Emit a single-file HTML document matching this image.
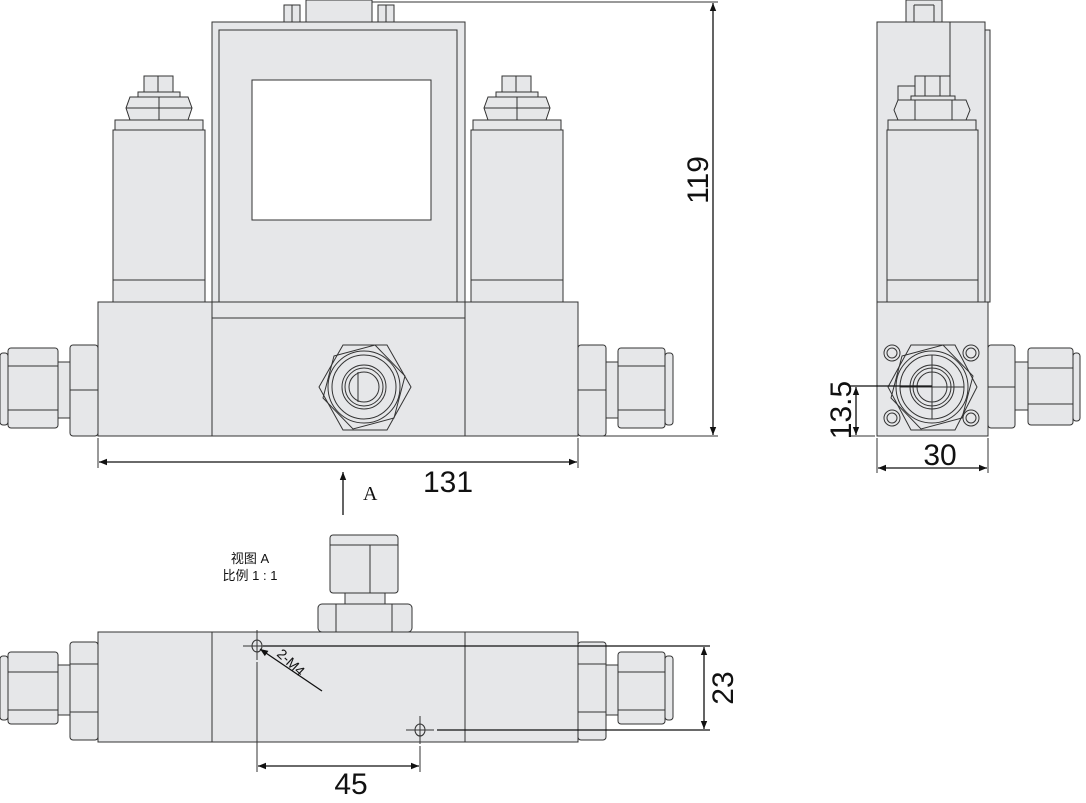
<!DOCTYPE html>
<html><head><meta charset="utf-8"><style>
html,body{margin:0;padding:0;background:#fff;}
svg{display:block;}
.f{fill:#e6e7e9;stroke:#333;stroke-width:1;}
.l{stroke:#333;stroke-width:1;fill:none;}
.d{stroke:#111;stroke-width:1.3;fill:none;}
.t{font-family:"Liberation Sans",sans-serif;fill:#111;}
</style></head><body>
<svg width="1086" height="803" viewBox="0 0 1086 803" xmlns="http://www.w3.org/2000/svg">
<defs>
<marker id="ar" viewBox="0 0 10 10" refX="10" refY="5" markerWidth="12" markerHeight="8" orient="auto-start-reverse" markerUnits="userSpaceOnUse"><path d="M0,1 L10,5 L0,9 z" fill="#111"/></marker>
</defs>

<!-- ============ FRONT VIEW ============ -->
<rect class="f" x="284" y="5" width="16" height="18"/><line class="l" x1="292" y1="5" x2="292" y2="23"/>
<rect class="f" x="378" y="5" width="16" height="18"/><line class="l" x1="386" y1="5" x2="386" y2="23"/>
<rect class="f" x="306" y="0" width="66" height="23"/>
<rect class="f" x="212" y="22" width="253" height="296"/>
<rect class="f" x="219" y="30" width="238" height="277"/>
<rect x="252" y="80" width="179" height="140" fill="#fff" stroke="#333"/>
<rect class="f" x="113" y="130" width="92" height="172"/><line class="l" x1="113" y1="280" x2="205" y2="280"/>
<rect class="f" x="115" y="120" width="88" height="10"/>
<path class="f" d="M130,97 L188,97 L192,108 L188,120 L130,120 L126,108 Z"/><line class="l" x1="159" y1="97" x2="159" y2="120"/><line class="l" x1="126" y1="108" x2="192" y2="108"/>
<rect class="f" x="138" y="92" width="42" height="5"/>
<rect class="f" x="144" y="76" width="29" height="16"/><line class="l" x1="158" y1="76" x2="158" y2="92"/>
<rect class="f" x="471" y="130" width="92" height="172"/><line class="l" x1="471" y1="280" x2="563" y2="280"/>
<rect class="f" x="473" y="120" width="88" height="10"/>
<path class="f" d="M488,97 L546,97 L550,108 L546,120 L488,120 L484,108 Z"/><line class="l" x1="517" y1="97" x2="517" y2="120"/><line class="l" x1="484" y1="108" x2="550" y2="108"/>
<rect class="f" x="496" y="92" width="42" height="5"/>
<rect class="f" x="502" y="76" width="29" height="16"/><line class="l" x1="516" y1="76" x2="516" y2="92"/>
<rect class="f" x="98" y="302" width="480" height="134"/>
<line class="l" x1="212" y1="302" x2="212" y2="436"/><line class="l" x1="465" y1="302" x2="465" y2="436"/>
<line class="l" x1="212" y1="318" x2="465" y2="318"/>
<rect class="f" x="0" y="353" width="8" height="72" rx="3"/>
<rect class="f" x="8" y="348" width="50" height="80" rx="3"/><line class="l" x1="8" y1="366" x2="58" y2="366"/><line class="l" x1="8" y1="410" x2="58" y2="410"/>
<rect class="f" x="58" y="362" width="12" height="56"/>
<rect class="f" x="70" y="345" width="28" height="91" rx="3"/><line class="l" x1="70" y1="390" x2="98" y2="390"/>
<rect class="f" x="578" y="345" width="28" height="91" rx="3"/><line class="l" x1="578" y1="390" x2="606" y2="390"/>
<rect class="f" x="606" y="362" width="12" height="56"/>
<rect class="f" x="618" y="348" width="47" height="80" rx="3"/><line class="l" x1="618" y1="366" x2="665" y2="366"/><line class="l" x1="618" y1="410" x2="665" y2="410"/>
<rect class="f" x="665" y="353" width="8" height="72" rx="3"/>
<g transform="translate(364,387)">
<path class="l" d="M-21,-42 L23,-42 L47,0 L23,43 L-21,43 L-45,0 Z"/>
<path class="l" d="M-30,-31 L11,-42 L41,-11 L30,31 L-11,42 L-41,11 Z"/>
<circle class="l" r="36"/><circle class="l" r="32"/><circle class="l" r="22" stroke-width="1.6"/><circle class="l" r="19"/><circle class="l" r="15"/>
<line class="l" x1="-6" y1="-15" x2="-6" y2="15"/>
</g>
<line class="l" x1="98" y1="438" x2="98" y2="468"/><line class="l" x1="578" y1="438" x2="578" y2="468"/>
<line class="d" x1="99" y1="462" x2="577" y2="462" marker-start="url(#ar)" marker-end="url(#ar)"/>
<text class="t" x="448" y="492" font-size="30" text-anchor="middle">131</text>
<line class="l" x1="372" y1="2" x2="718" y2="2"/><line class="l" x1="580" y1="436" x2="718" y2="436"/>
<line class="d" x1="713" y1="3" x2="713" y2="435" marker-start="url(#ar)" marker-end="url(#ar)"/>
<text class="t" font-size="30" text-anchor="middle" transform="translate(708,180) rotate(-90)">119</text>
<line class="d" x1="343" y1="515" x2="343" y2="472" marker-end="url(#ar)"/>
<text x="363" y="500" font-size="20" style="font-family:'Liberation Serif',serif" fill="#111">A</text>

<!-- ============ SIDE VIEW ============ -->
<rect class="f" x="906" y="0" width="36" height="23"/><line class="l" x1="914" y1="5" x2="934" y2="5"/><line class="l" x1="914" y1="5" x2="914" y2="23"/><line class="l" x1="934" y1="5" x2="934" y2="23"/>
<rect class="f" x="985" y="30" width="5" height="272"/>
<rect class="f" x="877" y="22" width="108" height="280"/>
<line class="l" x1="950" y1="22" x2="950" y2="85"/><line class="l" x1="950" y1="85" x2="945" y2="85"/>
<rect class="f" x="887" y="130" width="91" height="172"/><line class="l" x1="887" y1="280" x2="978" y2="280"/>
<rect class="f" x="888" y="120" width="88" height="10"/>
<path class="f" d="M898,100 L966,100 L970,110 L966,120 L898,120 L894,110 Z"/><line class="l" x1="915" y1="100" x2="915" y2="120"/><line class="l" x1="952" y1="100" x2="952" y2="120"/>
<rect class="f" x="898" y="86" width="18" height="14"/>
<rect class="f" x="911" y="96" width="44" height="4"/>
<rect class="f" x="915" y="76" width="35" height="20"/><line class="l" x1="925" y1="76" x2="925" y2="96"/><line class="l" x1="940" y1="76" x2="940" y2="96"/>
<rect class="f" x="877" y="302" width="111" height="134"/>
<g class="l">
<circle cx="892" cy="353" r="8"/><circle cx="892" cy="353" r="5"/>
<circle cx="971" cy="353" r="8"/><circle cx="971" cy="353" r="5"/>
<circle cx="892" cy="418" r="8"/><circle cx="892" cy="418" r="5"/>
<circle cx="971" cy="418" r="8"/><circle cx="971" cy="418" r="5"/>
</g>
<g transform="translate(932,387)">
<path class="l" d="M-21,-42 L23,-42 L45,0 L23,43 L-21,43 L-44,0 Z"/>
<path class="l" d="M-30,-31 L11,-42 L41,-11 L30,31 L-11,42 L-41,11 Z"/>
<circle class="l" r="36"/><circle class="l" r="32"/><circle class="l" r="22" stroke-width="1.6"/><circle class="l" r="19"/><circle class="l" r="15"/>
<line class="l" x1="0" y1="-32" x2="0" y2="32"/><line class="l" x1="-32" y1="0" x2="32" y2="0"/>
</g>
<rect class="f" x="988" y="345" width="27" height="83" rx="3"/><line class="l" x1="988" y1="387" x2="1015" y2="387"/>
<rect class="f" x="1015" y="362" width="13" height="48"/>
<rect class="f" x="1028" y="348" width="45" height="77" rx="3"/><line class="l" x1="1028" y1="368" x2="1073" y2="368"/><line class="l" x1="1028" y1="404" x2="1073" y2="404"/>
<rect class="f" x="1073" y="353" width="7" height="68" rx="3"/>
<line class="d" x1="850" y1="386" x2="932" y2="386"/><line class="l" x1="850" y1="436" x2="875" y2="436"/>
<line class="d" x1="856" y1="387" x2="856" y2="435" marker-start="url(#ar)" marker-end="url(#ar)"/>
<text class="t" font-size="30" text-anchor="middle" transform="translate(851,410) rotate(-90)">13.5</text>
<line class="l" x1="877" y1="438" x2="877" y2="473"/><line class="l" x1="988" y1="438" x2="988" y2="473"/>
<line class="d" x1="878" y1="468" x2="987" y2="468" marker-start="url(#ar)" marker-end="url(#ar)"/>
<text class="t" x="940" y="465" font-size="30" text-anchor="middle">30</text>

<!-- ============ VIEW A ============ -->
<text class="t" x="250" y="563" font-size="13" text-anchor="middle" style="font-family:'Liberation Sans','Noto Sans CJK SC',sans-serif">视图 A</text>
<text class="t" x="250" y="580" font-size="13" text-anchor="middle" style="font-family:'Liberation Sans','Noto Sans CJK SC',sans-serif">比例 1 : 1</text>
<rect class="f" x="330" y="535" width="68" height="58" rx="3"/><line class="l" x1="330" y1="545" x2="398" y2="545"/><line class="l" x1="370" y1="545" x2="370" y2="593"/>
<rect class="f" x="345" y="593" width="40" height="11"/>
<rect class="f" x="318" y="604" width="94" height="28" rx="4"/><line class="l" x1="336" y1="604" x2="336" y2="632"/><line class="l" x1="392" y1="604" x2="392" y2="632"/>
<rect class="f" x="98" y="632" width="480" height="110"/>
<line class="l" x1="212" y1="632" x2="212" y2="742"/><line class="l" x1="465" y1="632" x2="465" y2="742"/>
<rect class="f" x="0" y="656" width="8" height="64" rx="3"/>
<rect class="f" x="8" y="652" width="50" height="72" rx="3"/><line class="l" x1="8" y1="672" x2="58" y2="672"/><line class="l" x1="8" y1="710" x2="58" y2="710"/>
<rect class="f" x="58" y="665" width="12" height="50"/>
<rect class="f" x="70" y="642" width="28" height="98" rx="3"/><line class="l" x1="70" y1="664" x2="98" y2="664"/><line class="l" x1="70" y1="712" x2="98" y2="712"/>
<rect class="f" x="578" y="642" width="28" height="98" rx="3"/><line class="l" x1="578" y1="664" x2="606" y2="664"/><line class="l" x1="578" y1="712" x2="606" y2="712"/>
<rect class="f" x="606" y="665" width="12" height="50"/>
<rect class="f" x="618" y="652" width="47" height="72" rx="3"/><line class="l" x1="618" y1="672" x2="665" y2="672"/><line class="l" x1="618" y1="710" x2="665" y2="710"/>
<rect class="f" x="665" y="656" width="8" height="64" rx="3"/>
<ellipse class="l" cx="257" cy="646" rx="5" ry="6"/>
<line class="l" x1="243" y1="646" x2="271" y2="646"/><line class="l" x1="257" y1="630" x2="257" y2="660"/>
<ellipse class="l" cx="420" cy="730" rx="5" ry="6"/>
<line class="l" x1="406" y1="730" x2="434" y2="730"/><line class="l" x1="420" y1="716" x2="420" y2="744"/>
<line class="d" x1="322" y1="691" x2="260" y2="649" marker-end="url(#ar)"/>
<text class="t" font-size="14" transform="translate(276,655) rotate(43)">2-M4</text>
<line class="d" x1="263" y1="646" x2="710" y2="646"/><line class="d" x1="437" y1="730" x2="710" y2="730"/>
<line class="d" x1="704" y1="647" x2="704" y2="729" marker-start="url(#ar)" marker-end="url(#ar)"/>
<text class="t" font-size="30" text-anchor="middle" transform="translate(733,688) rotate(-90)">23</text>
<line class="l" x1="257" y1="662" x2="257" y2="772"/><line class="l" x1="420" y1="746" x2="420" y2="772"/>
<line class="d" x1="258" y1="766" x2="419" y2="766" marker-start="url(#ar)" marker-end="url(#ar)"/>
<text class="t" x="351" y="794" font-size="30" text-anchor="middle">45</text>
</svg>
</body></html>
